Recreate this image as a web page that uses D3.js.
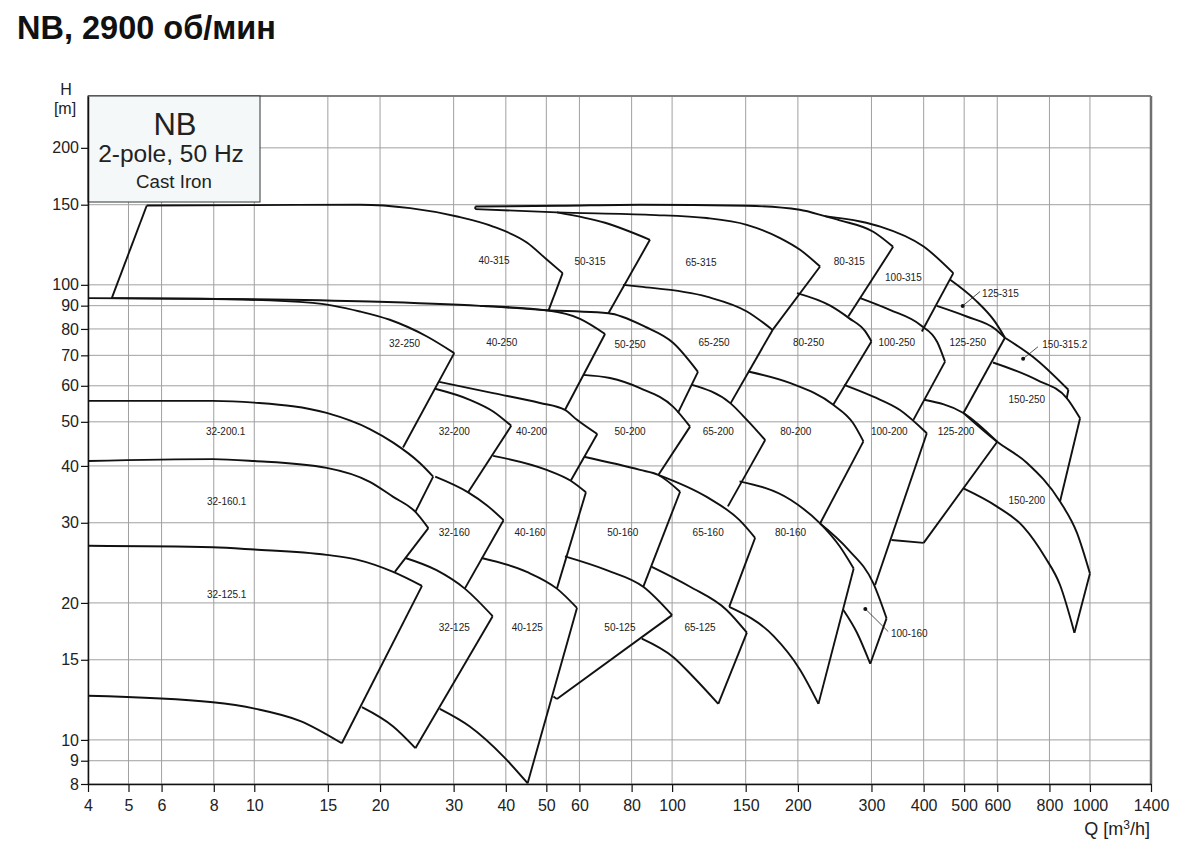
<!DOCTYPE html>
<html>
<head>
<meta charset="utf-8">
<script src="https://cdn.jsdelivr.net/npm/d3@7"></script>
<style>
  body { margin: 0; background: #fff; font-family: "Liberation Sans", Arial, sans-serif; }
</style>
</head>
<body>
<div id="chart"></div>
<script>
// axis ticks
const xTicks = [4, 5, 6, 8, 10, 15, 20, 30, 40, 50, 60, 80, 100, 150, 200, 300, 400, 500, 600, 800, 1000, 1400];
const yTicks = [8, 9, 10, 15, 20, 30, 40, 50, 60, 70, 80, 90, 100, 150, 200];

// pump ranges, points are [Q m3/h, H m]; every inner array is one drawn line
const family315 = [
    { name: '40-315', label: [37.5, 113.1], lines: [
        [[4.56, 93.5], [5.53, 149.4]],
        [[5.53, 149.4], [9.77, 149.7], [17.9, 150], [23.6, 147.4], [30.6, 141.3], [37.3, 134.3], [45.0, 123.7], [50.2, 113.5], [54.7, 106.1]],
        [[54.7, 106.1], [50.6, 87.8]],
        [[4.56, 93.5], [9.93, 93.0], [18.9, 91.9], [34.7, 89.9], [50.6, 87.8]]
    ]},
    { name: '50-315', label: [63.6, 112.5], lines: [
        [[53.0, 144.3], [69.1, 136.9], [88.5, 125.6]],
        [[88.5, 125.6], [70.4, 86.6]]
    ]},
    { name: '65-315', label: [117.3, 111.9], lines: [
        [[33.8, 146.7], [53.0, 144.3], [88.5, 142.5], [121, 140.2], [150.9, 135.5], [181.3, 126.7], [202.4, 119.4], [226, 109.7]],
        [[226, 109.7], [174, 79.6]]
    ]},
    { name: '80-315', label: [265.6, 112.5], lines: [
        [[33.8, 146.7], [33.8, 148.6]],
        [[33.8, 148.6], [53.9, 149.2], [83.8, 150], [151, 149.2], [202, 146.2], [232, 141.6], [252, 138.6], [303, 130.8], [338, 121.2]],
        [[338, 121.2], [264, 85.2]]
    ]},
    { name: '100-315', label: [357.7, 103.8], lines: [
        [[232, 141.6], [282, 137.8], [315, 134.3], [400, 121.4], [471, 106.1]],
        [[471, 106.1], [396, 79.0]]
    ]},
    { name: '125-315', label: null, lines: [
        [[463, 102.6], [531, 92.7], [593, 82.9], [626, 76.5]]
    ]},
    { name: '150-315.2', label: null, lines: [
        [[626, 76.5], [746, 68.4], [888, 58.8]],
        [[888, 58.8], [880, 56.4]]
    ]}
];

const family250 = [
    { name: '32-250', label: [22.9, 74.5], lines: [
        [[4, 93.5], [7.41, 93.2], [13.8, 91.3], [17.9, 87.4], [21.1, 83.8], [25.9, 77.0], [30.1, 70.8]],
        [[30.1, 70.8], [22.7, 43.9]]
    ]},
    { name: '40-250', label: [39.1, 74.7], lines: [
        [[34.7, 89.9], [50.6, 87.8], [60.2, 84.2], [69.1, 78.0]],
        [[69.1, 78.0], [55.4, 53.1]]
    ]},
    { name: '50-250', label: [79.3, 74.1], lines: [
        [[50.6, 87.8], [70.4, 86.6], [86.1, 80.9], [100.5, 74.6], [115.3, 64.4]],
        [[115.3, 64.4], [103.3, 52.3]]
    ]},
    { name: '65-250', label: [126, 74.7], lines: [
        [[76.3, 100], [83.8, 99.1], [121, 94.2], [151, 87.4], [174, 79.6]],
        [[174, 79.6], [138, 54.9]]
    ]},
    { name: '80-250', label: [212, 74.7], lines: [
        [[199, 95.9], [239, 90], [265, 84.5], [290, 79], [300, 75.1]],
        [[300, 75.1], [243, 54.5]]
    ]},
    { name: '100-250', label: [345, 74.7], lines: [
        [[282, 93.5], [332, 88.1], [392, 81.7], [431, 74.9], [450, 67.8]],
        [[450, 67.8], [378, 50.5]]
    ]},
    { name: '125-250', label: [510, 74.7], lines: [
        [[430, 89.9], [507, 85.2], [593, 80], [626, 76.5]],
        [[626, 76.5], [498, 52.3]]
    ]},
    { name: '150-250', label: [706, 56.1], lines: [
        [[586, 67.5], [746, 61.8], [880, 56.4], [947, 50.9]],
        [[947, 50.9], [848, 33.4]]
    ]}
];

const family200 = [
    { name: '32-200.1', label: [8.54, 47.5], lines: [
        [[4, 55.6], [7.95, 55.6], [10, 55.1], [14.9, 52.3], [18.9, 48.2], [21.5, 45.0], [24.9, 40.6], [26.8, 37.9]],
        [[26.8, 37.9], [24.3, 31.7]]
    ]},
    { name: '32-200', label: [30.1, 47.5], lines: [
        [[27.1, 59.1], [32.8, 55.9], [37.3, 52.7], [41.2, 49.0]],
        [[41.2, 49.0], [32.5, 35.0]]
    ]},
    { name: '40-200', label: [46.1, 47.5], lines: [
        [[27.7, 61.2], [37.3, 57.8], [48.3, 55.0], [55.4, 53.1], [59.2, 50.5], [66.2, 47.0]],
        [[66.2, 47.0], [57.2, 37.1]]
    ]},
    { name: '50-200', label: [79.3, 47.5], lines: [
        [[61.2, 63.4], [71, 62.4], [83.8, 59.3], [100.5, 54], [110.4, 48.8]],
        [[110.4, 48.8], [92.7, 38.2]]
    ]},
    { name: '65-200', label: [129, 47.5], lines: [
        [[111.6, 60.3], [138, 54.9], [151, 50.5], [167, 45.6]],
        [[167, 45.6], [136, 32.6]]
    ]},
    { name: '80-200', label: [197.7, 47.5], lines: [
        [[152, 64.5], [192, 60.8], [243, 54.5], [271, 49.7], [287, 45.3]],
        [[287, 45.3], [226, 29.9]]
    ]},
    { name: '100-200', label: [331, 47.5], lines: [
        [[258, 60.3], [303, 56.8], [351, 53.1], [407, 47.2]],
        [[407, 47.2], [306, 21.9]]
    ]},
    { name: '125-200', label: [478, 47.5], lines: [
        [[401, 55.9], [498, 52.3], [600, 45.2]],
        [[600, 45.2], [400, 27.1]],
        [[335, 27.5], [400, 27.1]]
    ]},
    { name: '150-200', label: [706, 33.6], lines: [
        [[498, 52.3], [600, 45.2], [707, 40.6], [848, 33.4], [931, 28.5], [1000, 23.2]],
        [[1000, 23.2], [918, 17.2]],
        [[498, 35.7], [598, 32.6], [693, 29.4], [781, 25.2], [848, 21.9], [918, 17.2]]
    ]}
];

const family160 = [
    { name: '32-160.1', label: [8.59, 33.4], lines: [
        [[4, 41.0], [7.95, 41.4], [10, 41.0], [14.9, 39.6], [18.9, 36.9], [21.5, 34.2], [24.3, 31.7], [26.1, 29.2]],
        [[26.1, 29.2], [21.7, 23.4]]
    ]},
    { name: '32-160', label: [30.1, 28.5], lines: [
        [[27.1, 37.9], [32.5, 35.0], [36.0, 32.8], [39.5, 30.4]],
        [[39.5, 30.4], [31.9, 21.5]]
    ]},
    { name: '40-160', label: [45.7, 28.5], lines: [
        [[37.3, 42.1], [50.1, 39.2], [57.2, 37.1], [62.2, 35.0]],
        [[62.2, 35.0], [53, 21.5]]
    ]},
    { name: '50-160', label: [76.2, 28.5], lines: [
        [[61.5, 41.9], [83.8, 39.2], [92.7, 38.2], [104.5, 35.1]],
        [[104.5, 35.1], [85.3, 21.7]]
    ]},
    { name: '65-160', label: [122, 28.5], lines: [
        [[93, 38.2], [121, 34.2], [145, 30.4], [158, 27.8]],
        [[158, 27.8], [137, 19.6]]
    ]},
    { name: '80-160', label: [192, 28.5], lines: [
        [[145, 37.0], [192, 33.7], [226, 29.9], [252, 26.6], [272, 23.8]],
        [[272, 23.8], [224, 12.0]],
        [[137, 19.6], [175, 16.9], [202, 14.3], [224, 12.0]]
    ]},
    { name: '100-160', label: null, lines: [
        [[226, 29.9], [264, 26.2], [303, 22.1], [326, 18.5]],
        [[326, 18.5], [298, 14.7]],
        [[257, 19.3], [277, 17.2], [298, 14.7]]
    ]}
];

const family125 = [
    { name: '32-125.1', label: [8.59, 20.9], lines: [
        [[4, 26.7], [7.96, 26.5], [10, 26.2], [14.9, 25.5], [17.6, 24.9], [21.5, 23.4], [25.2, 21.8]],
        [[25.2, 21.8], [16.2, 9.83]],
        [[4, 12.5], [7.96, 12.1], [10.1, 11.7], [12.9, 11.0], [16.2, 9.83]]
    ]},
    { name: '32-125', label: [30.1, 17.7], lines: [
        [[23.0, 25.1], [27.3, 23.6], [31.9, 21.5], [37.2, 18.7]],
        [[37.2, 18.7], [24.3, 9.59]],
        [[18.1, 11.8], [21.5, 10.7], [24.3, 9.59]]
    ]},
    { name: '40-125', label: [45.0, 17.7], lines: [
        [[35.0, 25.1], [44.9, 23.4], [53.0, 21.5], [59.2, 19.5]],
        [[59.2, 19.5], [45.1, 8.03]],
        [[27.8, 11.7], [32.8, 10.7], [39.5, 9.19], [45.1, 8.03]]
    ]},
    { name: '50-125', label: [75.0, 17.7], lines: [
        [[55.4, 25.3], [69.7, 23.6], [85.3, 21.7], [100, 18.8]],
        [[100, 18.8], [53, 12.3]],
        [[53, 12.3], [52, 12.45]]
    ]},
    { name: '65-125', label: [116.6, 17.7], lines: [
        [[89.4, 24.0], [110.4, 21.7], [135, 19.3], [151, 17.2]],
        [[151, 17.2], [129, 12.0]],
        [[84.6, 16.7], [100.7, 15.2], [112, 13.8], [129, 12.0]]
    ]}
];

// small ranges labelled with a dot and a leader line
const callouts = [
    { name: '125-315', dot: [496, 89.9], tip: [546, 96.7], text: [552, 95.9] },
    { name: '150-315.2', dot: [692, 68.8], tip: [751, 73.1], text: [769, 73.8] },
    { name: '100-160', dot: [290, 19.4], tip: [329, 17.3], text: [334, 17.1] }
];

const W = 1180, H = 843;
const svg = d3.select('#chart').append('svg')
    .attr('width', W)
    .attr('height', H)
    .style('font-family', '"Liberation Sans", Arial, sans-serif');

const x = d3.scaleLog().domain([4, 1400]).range([88, 1151]);
const y = d3.scaleLog().domain([8, 260]).range([784, 96]);

// title
svg.append('text')
    .attr('x', 17)
    .attr('y', 39)
    .style('font-size', '32.5px')
    .style('font-weight', 'bold')
    .style('fill', '#111')
    .text('NB, 2900 об/мин');

// grid
const grid = svg.append('g').attr('class', 'grid');
grid.selectAll('.vx').data(xTicks).enter().append('line')
    .attr('x1', d => x(d)).attr('x2', d => x(d))
    .attr('y1', y.range()[1]).attr('y2', y.range()[0])
    .attr('stroke', '#a0a0a0').attr('stroke-width', 1);
grid.selectAll('.hy').data(yTicks).enter().append('line')
    .attr('x1', x.range()[0]).attr('x2', x.range()[1])
    .attr('y1', d => y(d)).attr('y2', d => y(d))
    .attr('stroke', '#a0a0a0').attr('stroke-width', 1);

// frame top / right (grey)
svg.append('line')
    .attr('x1', x.range()[0]).attr('x2', x.range()[1])
    .attr('y1', y.range()[1]).attr('y2', y.range()[1])
    .attr('stroke', '#808080').attr('stroke-width', 2);
svg.append('line')
    .attr('x1', x.range()[1]).attr('x2', x.range()[1])
    .attr('y1', y.range()[1]).attr('y2', y.range()[0])
    .attr('stroke', '#707070').attr('stroke-width', 2.5);

// legend box
const box = svg.append('g');
box.append('rect')
    .attr('x', 88).attr('y', 96)
    .attr('width', 172).attr('height', 106)
    .attr('fill', '#f5f8f8')
    .attr('stroke', '#333').attr('stroke-width', 1);
box.append('text').attr('x', 175).attr('y', 135).attr('text-anchor', 'middle')
    .style('font-size', '31px').style('fill', '#222').text('NB');
box.append('text').attr('x', 171).attr('y', 162).attr('text-anchor', 'middle')
    .style('font-size', '24.5px').style('fill', '#222').text('2-pole, 50 Hz');
box.append('text').attr('x', 174).attr('y', 188).attr('text-anchor', 'middle')
    .style('font-size', '18.7px').style('fill', '#222').text('Cast Iron');

// axes
const xAxis = d3.axisBottom(x)
    .tickValues(xTicks)
    .tickFormat(d => d)
    .tickSize(8)
    .tickSizeOuter(0)
    .tickPadding(8);
const yAxis = d3.axisLeft(y)
    .tickValues(yTicks)
    .tickFormat(d => d)
    .tickSize(7)
    .tickSizeOuter(0)
    .tickPadding(2);

const gx = svg.append('g').attr('transform', `translate(0,${y.range()[0]})`).call(xAxis);
const gy = svg.append('g').attr('transform', `translate(${x.range()[0]},0)`).call(yAxis);
[gx, gy].forEach(g => {
    g.select('.domain').attr('stroke', '#111').attr('stroke-width', 1.5);
    g.selectAll('.tick line').attr('stroke', '#111').attr('stroke-width', 1.2);
    g.selectAll('.tick text')
        .style('font-size', '16px')
        .style('font-family', '"Liberation Sans", Arial, sans-serif')
        .style('fill', '#222');
});

// axis titles
svg.append('text').attr('x', 66).attr('y', 95).attr('text-anchor', 'middle')
    .style('font-size', '16px').style('fill', '#222').text('H');
svg.append('text').attr('x', 65).attr('y', 114).attr('text-anchor', 'middle')
    .style('font-size', '16px').style('fill', '#222').text('[m]');
const qLabel = svg.append('text').attr('x', 1150).attr('y', 835).attr('text-anchor', 'end')
    .style('font-size', '18px').style('fill', '#222');
qLabel.append('tspan').text('Q [m');
qLabel.append('tspan').attr('dy', -6).style('font-size', '12px').text('3');
qLabel.append('tspan').attr('dy', 6).text('/h]');

// pump ranges - monotone so the curves don't overshoot between points
const line = d3.line()
    .x(d => x(d[0]))
    .y(d => y(d[1]))
    .curve(d3.curveMonotoneX);
const straight = d3.line()
    .x(d => x(d[0]))
    .y(d => y(d[1]));

const pumps = [].concat(family315, family250, family200, family160, family125);
const curves = svg.append('g').attr('class', 'curves');

pumps.forEach(p => {
    curves.selectAll(null)
        .data(p.lines)
        .enter().append('path')
        .attr('d', d => (d.length > 2 && d[0][0] !== d[1][0]) ? line(d) : straight(d))
        .attr('fill', 'none')
        .attr('stroke', '#111')
        .attr('stroke-width', 1.9)
        .attr('stroke-linejoin', 'round');
});

svg.append('g').selectAll('text')
    .data(pumps.filter(p => p.label))
    .enter().append('text')
    .attr('x', d => x(d.label[0]))
    .attr('y', d => y(d.label[1]))
    .attr('dy', '0.35em')
    .attr('text-anchor', 'middle')
    .style('font-size', '10px')
    .style('fill', '#222')
    .text(d => d.name);

// callouts
const co = svg.append('g').selectAll('g').data(callouts).enter().append('g');
co.append('line')
    .attr('x1', d => x(d.dot[0])).attr('y1', d => y(d.dot[1]))
    .attr('x2', d => x(d.tip[0])).attr('y2', d => y(d.tip[1]))
    .attr('stroke', '#222').attr('stroke-width', 0.8);
co.append('circle')
    .attr('cx', d => x(d.dot[0])).attr('cy', d => y(d.dot[1]))
    .attr('r', 2).attr('fill', '#111');
co.append('text')
    .attr('x', d => x(d.text[0])).attr('y', d => y(d.text[1]))
    .attr('dy', '0.35em')
    .style('font-size', '10px')
    .style('fill', '#222')
    .text(d => d.name);
</script>
</body>
</html>
